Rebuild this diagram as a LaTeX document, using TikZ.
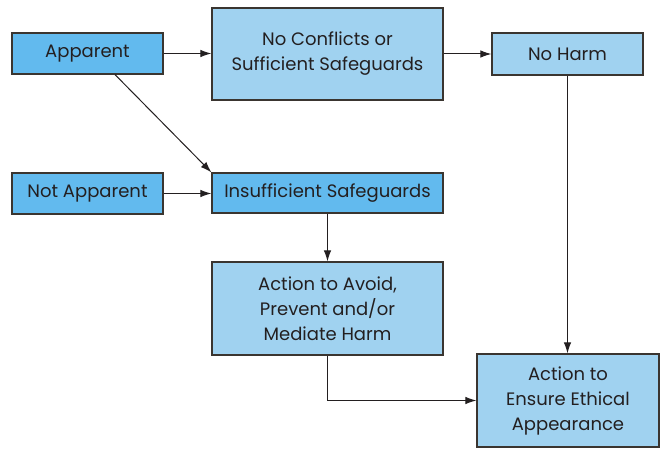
\documentclass[tikz,border=0pt]{standalone}
\usepackage{fontspec}
\setmainfont{Poppins}
\usetikzlibrary{arrows.meta}
\definecolor{lightfill}{HTML}{A0D2F0}
\definecolor{darkfill}{HTML}{62BAEE}
\definecolor{ink}{HTML}{231F20}
\definecolor{edge}{HTML}{3A3530}
\begin{document}
\begin{tikzpicture}[x=1pt,y=-1pt,
  box/.style={draw=edge, line width=1.2pt, inner sep=0pt, align=center,
    text=ink, font=\fontsize{18}{25}\selectfont},
  light/.style={box, fill=lightfill},
  dark/.style={box, fill=darkfill},
  arr/.style={draw=ink, line width=1pt, -{Latex[length=11pt,width=7.5pt]}}]
\useasboundingbox (0,0) rectangle (662,452);

\node[dark,  minimum width=151pt, minimum height=41pt] (app)    at (87.5,53.5)  {Apparent};
\node[light, minimum width=231pt, minimum height=92pt] (noconf) at (327.5,54)   {No Conflicts or\\Sufficient Safeguards};
\node[light, minimum width=151pt, minimum height=42pt] (noharm) at (567.5,54)   {No Harm};
\node[dark,  minimum width=151pt, minimum height=41pt] (notapp) at (87.5,193.5) {Not Apparent};
\node[dark,  minimum width=231pt, minimum height=40pt] (insuff) at (327.5,193)  {Insufficient Safeguards};
\node[light, minimum width=231pt, minimum height=93pt] (avoid)  at (327.5,308.5){Action to Avoid,\\Prevent and/or\\Mediate Harm};
\node[light, minimum width=182pt, minimum height=93pt] (ensure) at (568,400.5)  {Action to\\Ensure Ethical\\Appearance};

\draw[arr] (app.east) -- (noconf.west |- app.east);
\draw[arr] ([xshift=27.5pt]app.south) -- (insuff.north west);
\draw[arr] (notapp.east) -- (insuff.west |- notapp.east);
\draw[arr] (noconf.east |- noharm.west) -- (noharm.west);
\draw[arr] (noharm.south) -- (noharm.south |- ensure.north);
\draw[arr] (insuff.south) -- (avoid.north);
\draw[arr] (avoid.south) |- (ensure.west);
\end{tikzpicture}
\end{document}
